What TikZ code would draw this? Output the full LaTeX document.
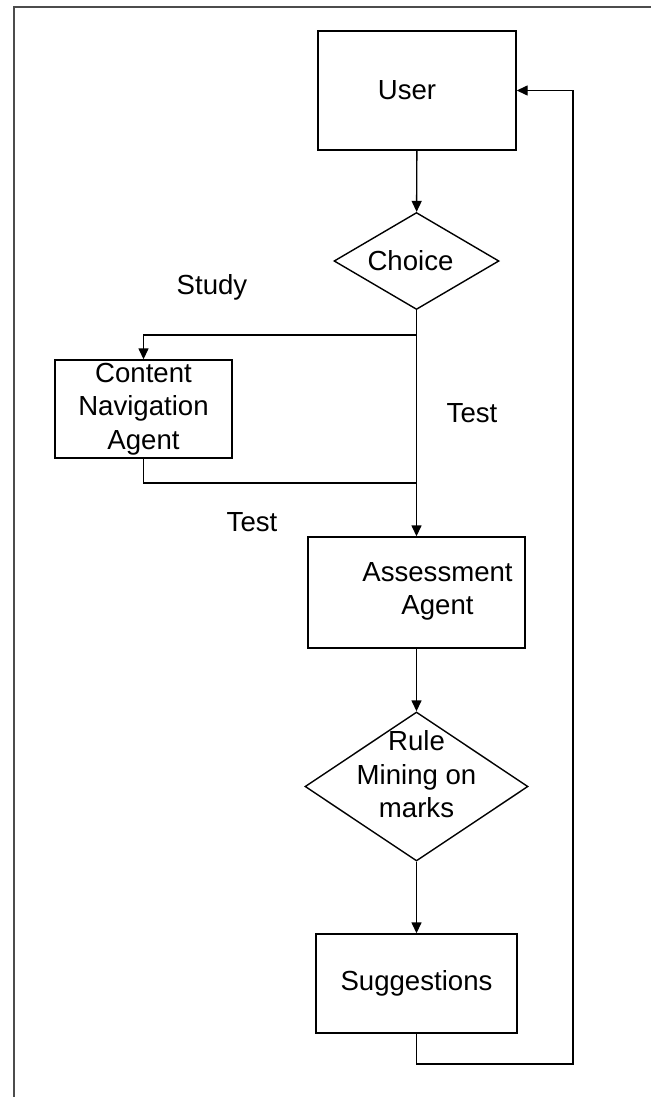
\documentclass[tikz,border=0pt]{standalone}
\usepackage{fontspec}
\setmainfont{Liberation Sans}
\usetikzlibrary{arrows.meta,shapes.geometric}

\begin{document}
\begin{tikzpicture}[
  x=1pt, y=-1pt,
  font=\fontsize{27.6}{33.5}\selectfont,
  box/.style={draw, line width=1.4pt, inner sep=0pt},
  choicebox/.style={draw, diamond, line width=1.4pt, inner sep=0pt},
  arr/.style={line width=1.4pt, -{Triangle[length=11pt,width=10pt]}},
  wire/.style={line width=1.4pt},
  frame/.style={line width=2pt, draw=black!70}
]
\useasboundingbox (0,0) rectangle (651,1097);

% Outer frame (left and top only)
\draw[frame] (13.5,1097) -- (13.5,7.5) -- (651,7.5);

% Main column
\node[box, minimum width=198pt, minimum height=119pt] (user) at (417,90.5) {\hspace*{-20pt}User};
\node[choicebox, minimum width=165pt, minimum height=97pt] (choice) at (416.5,261) {\hspace*{-12pt}Choice};
\node[box, minimum width=177pt, minimum height=98pt, align=center] (cna) at (143.5,409) {Content\\Navigation\\Agent};
\node[box, minimum width=217pt, minimum height=111pt,
  label={[align=center, xshift=21pt, yshift=1pt]center:Assessment\\Agent}] (assess) at (416.5,592.5) {};
\node[choicebox, minimum width=223pt, minimum height=149pt,
  label={[align=center, yshift=12pt]center:Rule\\Mining on\\marks}] (rule) at (416.5,786.5) {};
\node[box, minimum width=201pt, minimum height=99pt] (sugg) at (416.5,983.5) {Suggestions};

% Labels
\node (study) at (212,287) {Study};
\node (testa) at (472,413) {Test};
\node (testb) at (252,522) {Test};

% Connectors
\coordinate (split) at (416.5,335);
\coordinate (join) at (416.5,483);
\coordinate (back) at (573,1064);
\draw[arr] (user) -- (choice);
\draw[arr] (choice) -- (assess);
\draw[arr] (split) -| (cna.north);
\draw[wire] (cna.south) |- (join);
\draw[arr] (assess) -- (rule);
\draw[arr] (rule) -- (sugg);
\draw[arr] (sugg.south) |- (back) |- (user.east);

\end{tikzpicture}
\end{document}
